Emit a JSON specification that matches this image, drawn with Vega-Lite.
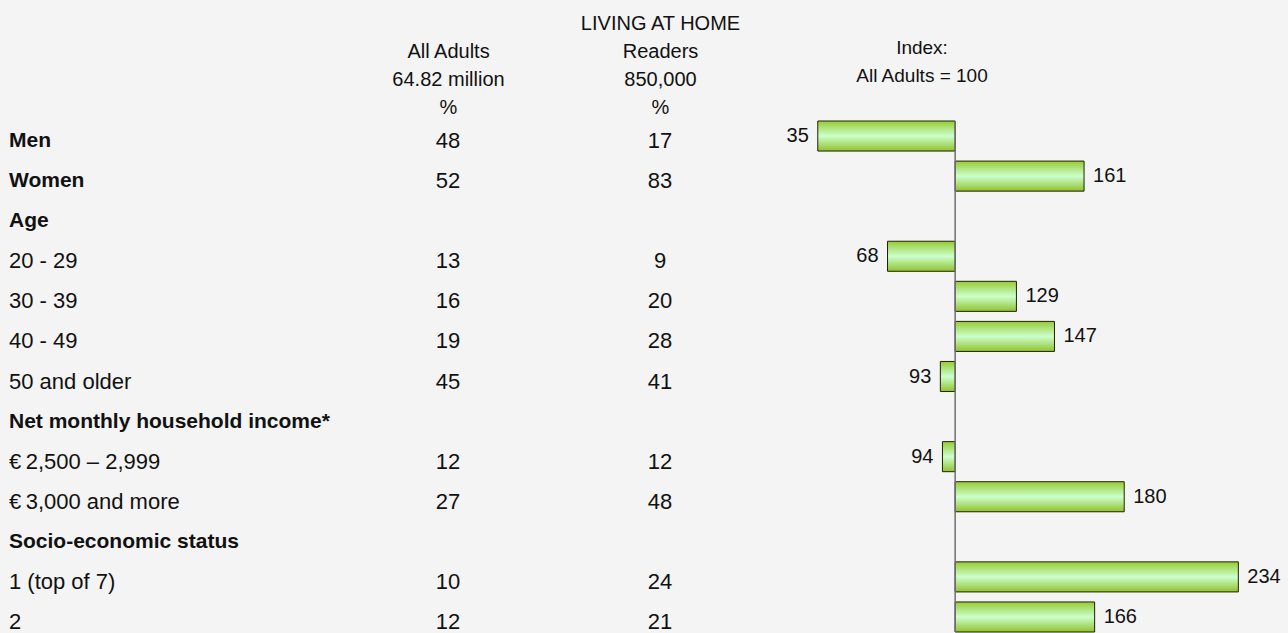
{
  "$schema": "https://vega.github.io/schema/vega-lite/v6.json",
  "background": "#f4f4f4",
  "padding": {"left": 9, "top": 0, "right": 0, "bottom": 0},
  "bounds": "flush",
  "spacing": 0,
  "config": {
    "view": {"stroke": null},
    "font": "Liberation Sans",
    "text": {"font": "Liberation Sans", "color": "#111111"}
  },
  "data": {
    "values": [
      {"row": "Men", "level": 1, "all": 48, "readers": 17, "index": 35},
      {"row": "Women", "level": 1, "all": 52, "readers": 83, "index": 161},
      {"row": "Age", "level": 1},
      {"row": "20 - 29", "level": 2, "all": 13, "readers": 9, "index": 68},
      {"row": "30 - 39", "level": 2, "all": 16, "readers": 20, "index": 129},
      {"row": "40 - 49", "level": 2, "all": 19, "readers": 28, "index": 147},
      {"row": "50 and older", "level": 2, "all": 45, "readers": 41, "index": 93},
      {"row": "Net monthly household income*", "level": 1},
      {"row": "€\u20092,500 – 2,999", "level": 2, "all": 12, "readers": 12, "index": 94},
      {"row": "€\u20093,000 and more", "level": 2, "all": 27, "readers": 48, "index": 180},
      {"row": "Socio-economic status", "level": 1},
      {"row": "1 (top of 7)", "level": 2, "all": 10, "readers": 24, "index": 234},
      {"row": "2", "level": 2, "all": 12, "readers": 21, "index": 166}
    ]
  },
  "resolve": {"scale": {"y": "shared"}},
  "hconcat": [
    {
      "width": 333,
      "height": 511,
      "mark": {
        "type": "text",
        "align": "left",
        "baseline": "middle",
        "dy": 5,
        "fontSize": {"expr": "datum.level == 1 ? 21 : 22"},
        "fontWeight": {"expr": "datum.level == 1 ? 'bold' : 'normal'"}
      },
      "encoding": {
        "y": {"field": "row", "type": "nominal", "sort": null, "axis": null, "scale": {"paddingInner": 0.25, "paddingOuter": 0}},
        "x": {"datum": "label", "type": "nominal", "axis": null, "scale": {"type": "point", "padding": 0, "align": 0}},
        "text": {"field": "row", "type": "nominal"}
      }
    },
    {
      "width": 424,
      "height": 511,
      "transform": [
        {"fold": ["all", "readers"], "as": ["col", "value"]},
        {"filter": "isValid(datum.value)"}
      ],
      "mark": {"type": "text", "baseline": "middle", "dy": 5, "fontSize": 22},
      "encoding": {
        "y": {"field": "row", "type": "nominal", "sort": null, "axis": null},
        "x": {
          "field": "col",
          "type": "nominal",
          "sort": null,
          "scale": {"paddingInner": 0, "paddingOuter": 0},
          "axis": {
            "orient": "top",
            "title": null,
            "ticks": false,
            "tickSize": 0,
            "domain": false,
            "labelAngle": 0,
            "labelPadding": 88,
            "labelFontSize": 20,
            "labelFont": "Liberation Sans",
            "labelColor": "#111111",
            "labelLineHeight": 28,
            "labelLimit": 0,
            "minExtent": 121,
            "labelExpr": "datum.value == 'all' ? ['', 'All Adults', '64.82 million', '%'] : ['LIVING AT HOME', 'Readers', '850,000', '%']"
          }
        },
        "text": {"field": "value", "type": "quantitative"}
      }
    },
    {
      "width": 522,
      "height": 511,
      "title": {
        "text": ["Index:", "All Adults = 100"],
        "anchor": "middle",
        "dx": -105,
        "offset": 15,
        "baseline": "bottom",
        "fontSize": 19,
        "fontWeight": "normal",
        "font": "Liberation Sans",
        "lineHeight": 28,
        "color": "#111111"
      },
      "layer": [
        {
          "transform": [{"filter": "isValid(datum.index)"}],
          "mark": {
            "type": "bar",
            "fill": {
              "gradient": "linear",
              "x1": 0, "y1": 0, "x2": 0, "y2": 1,
              "stops": [
                {"offset": 0, "color": "#96cb34"},
                {"offset": 0.5, "color": "#ccffcc"},
                {"offset": 1, "color": "#90c22e"}
              ]
            },
            "stroke": "#1f2200",
            "strokeWidth": 1
          },
          "encoding": {
            "y": {"field": "row", "type": "nominal", "sort": null, "axis": null},
            "x": {"field": "index", "type": "quantitative", "axis": null, "scale": {"domain": [10.5, 257.5], "nice": false, "zero": false}},
            "x2": {"datum": 100}
          }
        },
        {
          "data": {"values": [{"base": 100}]},
          "mark": {"type": "rule", "color": "#707070", "strokeWidth": 1.5},
          "encoding": {"x": {"field": "base", "type": "quantitative"}}
        },
        {
          "transform": [{"filter": "isValid(datum.index) && datum.index < 100"}],
          "mark": {"type": "text", "align": "right", "baseline": "middle", "dx": -9, "fontSize": 20},
          "encoding": {
            "y": {"field": "row", "type": "nominal", "sort": null, "axis": null},
            "x": {"field": "index", "type": "quantitative"},
            "text": {"field": "index", "type": "quantitative"}
          }
        },
        {
          "transform": [{"filter": "isValid(datum.index) && datum.index >= 100"}],
          "mark": {"type": "text", "align": "left", "baseline": "middle", "dx": 9, "fontSize": 20},
          "encoding": {
            "y": {"field": "row", "type": "nominal", "sort": null, "axis": null},
            "x": {"field": "index", "type": "quantitative"},
            "text": {"field": "index", "type": "quantitative"}
          }
        }
      ]
    }
  ]
}
